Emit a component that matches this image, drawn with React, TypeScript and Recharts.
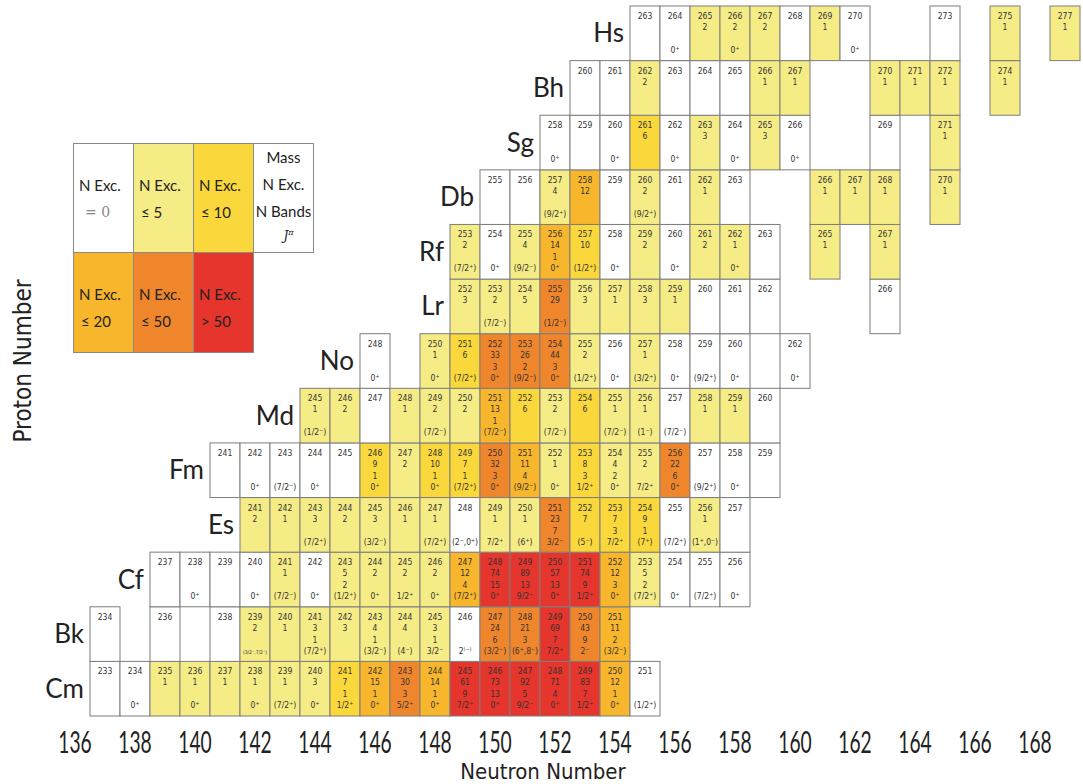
import { ScatterChart, Scatter, XAxis, YAxis } from 'recharts'

// [mass, N excited states, N bands, J^pi]
type Cell = [number, number, number, string]

const CM: Cell[] = [
  [233, 0, 0, ''], [234, 0, 0, '0⁺'], [235, 1, 0, ''], [236, 1, 0, '0⁺'], [237, 1, 0, ''],
  [238, 1, 0, '0⁺'], [239, 1, 0, '(7/2⁺)'], [240, 3, 0, '0⁺'], [241, 7, 1, '1/2⁺'], [242, 15, 1, '0⁺'],
  [243, 30, 3, '5/2⁺'], [244, 14, 1, '0⁺'], [245, 61, 9, '7/2⁺'], [246, 73, 13, '0⁺'], [247, 92, 5, '9/2⁻'],
  [248, 71, 4, '0⁺'], [249, 83, 7, '1/2⁺'], [250, 12, 1, '0⁺'], [251, 0, 0, '(1/2⁺)'],
]
const BK: Cell[] = [
  [234, 0, 0, ''], [236, 0, 0, ''], [238, 0, 0, ''], [239, 2, 0, '(3/2⁻,7/2⁺)'], [240, 1, 0, ''],
  [241, 3, 1, '(7/2⁺)'], [242, 3, 0, ''], [243, 4, 1, '(3/2⁻)'], [244, 4, 0, '(4⁻)'], [245, 3, 1, '3/2⁻'],
  [246, 0, 0, '2⁽⁻⁾'], [247, 24, 6, '(3/2⁻)'], [248, 21, 3, '(6⁺,8⁻)'], [249, 69, 7, '7/2⁺'], [250, 43, 9, '2⁻'],
  [251, 11, 2, '(3/2⁻)'],
]
const CF: Cell[] = [
  [237, 0, 0, ''], [238, 0, 0, '0⁺'], [239, 0, 0, ''], [240, 0, 0, '0⁺'], [241, 1, 0, '(7/2⁻)'],
  [242, 0, 0, '0⁺'], [243, 5, 2, '(1/2⁺)'], [244, 2, 0, '0⁺'], [245, 2, 0, '1/2⁺'], [246, 2, 0, '0⁺'],
  [247, 12, 4, '(7/2⁺)'], [248, 74, 15, '0⁺'], [249, 89, 13, '9/2⁻'], [250, 57, 13, '0⁺'], [251, 74, 9, '1/2⁺'],
  [252, 12, 3, '0⁺'], [253, 5, 2, '(7/2⁺)'], [254, 0, 0, '0⁺'], [255, 0, 0, '(7/2⁺)'], [256, 0, 0, '0⁺'],
]
const ES: Cell[] = [
  [241, 2, 0, ''], [242, 1, 0, ''], [243, 3, 0, '(7/2⁺)'], [244, 2, 0, ''], [245, 3, 0, '(3/2⁻)'],
  [246, 1, 0, ''], [247, 1, 0, '(7/2⁺)'], [248, 0, 0, '(2⁻,0⁺)'], [249, 1, 0, '7/2⁺'], [250, 1, 0, '(6⁺)'],
  [251, 23, 7, '3/2⁻'], [252, 7, 0, '(5⁻)'], [253, 7, 3, '7/2⁺'], [254, 9, 1, '(7⁺)'], [255, 0, 0, '(7/2⁺)'],
  [256, 1, 0, '(1⁺,0⁻)'], [257, 0, 0, ''],
]
const FM: Cell[] = [
  [241, 0, 0, ''], [242, 0, 0, '0⁺'], [243, 0, 0, '(7/2⁻)'], [244, 0, 0, '0⁺'], [245, 0, 0, ''],
  [246, 9, 1, '0⁺'], [247, 2, 0, ''], [248, 10, 1, '0⁺'], [249, 7, 1, '(7/2⁺)'], [250, 32, 3, '0⁺'],
  [251, 11, 4, '(9/2⁻)'], [252, 1, 0, '0⁺'], [253, 8, 3, '1/2⁺'], [254, 4, 2, '0⁺'], [255, 2, 0, '7/2⁺'],
  [256, 22, 6, '0⁺'], [257, 0, 0, '(9/2⁺)'], [258, 0, 0, '0⁺'], [259, 0, 0, ''],
]
const MD: Cell[] = [
  [245, 1, 0, '(1/2⁻)'], [246, 2, 0, ''], [247, 0, 0, ''], [248, 1, 0, ''], [249, 2, 0, '(7/2⁻)'],
  [250, 2, 0, ''], [251, 13, 1, '(7/2⁻)'], [252, 6, 0, ''], [253, 2, 0, '(7/2⁻)'], [254, 6, 0, ''],
  [255, 1, 0, '(7/2⁻)'], [256, 1, 0, '(1⁻)'], [257, 0, 0, '(7/2⁻)'], [258, 1, 0, ''], [259, 1, 0, ''],
  [260, 0, 0, ''],
]
const NO: Cell[] = [
  [248, 0, 0, '0⁺'], [250, 1, 0, '0⁺'], [251, 6, 0, '(7/2⁺)'], [252, 33, 3, '0⁺'], [253, 26, 2, '(9/2⁻)'],
  [254, 44, 3, '0⁺'], [255, 2, 0, '(1/2⁺)'], [256, 0, 0, '0⁺'], [257, 1, 0, '(3/2⁺)'], [258, 0, 0, '0⁺'],
  [259, 0, 0, '(9/2⁺)'], [260, 0, 0, '0⁺'], [262, 0, 0, '0⁺'],
]
const LR: Cell[] = [
  [252, 3, 0, ''], [253, 2, 0, '(7/2⁻)'], [254, 5, 0, ''], [255, 29, 0, '(1/2⁻)'], [256, 3, 0, ''],
  [257, 1, 0, ''], [258, 3, 0, ''], [259, 1, 0, ''], [260, 0, 0, ''], [261, 0, 0, ''], [262, 0, 0, ''],
  [266, 0, 0, ''],
]
const RF: Cell[] = [
  [253, 2, 0, '(7/2⁺)'], [254, 0, 0, '0⁺'], [255, 4, 0, '(9/2⁻)'], [256, 14, 1, '0⁺'], [257, 10, 0, '(1/2⁺)'],
  [258, 0, 0, '0⁺'], [259, 2, 0, ''], [260, 0, 0, '0⁺'], [261, 2, 0, ''], [262, 1, 0, '0⁺'], [263, 0, 0, ''],
  [265, 1, 0, ''], [267, 1, 0, ''],
]
const DB: Cell[] = [
  [255, 0, 0, ''], [256, 0, 0, ''], [257, 4, 0, '(9/2⁺)'], [258, 12, 0, ''], [259, 0, 0, ''],
  [260, 2, 0, '(9/2⁺)'], [261, 0, 0, ''], [262, 1, 0, ''], [263, 0, 0, ''], [266, 1, 0, ''],
  [267, 1, 0, ''], [268, 1, 0, ''], [270, 1, 0, ''],
]
const SG: Cell[] = [
  [258, 0, 0, '0⁺'], [259, 0, 0, ''], [260, 0, 0, '0⁺'], [261, 6, 0, ''], [262, 0, 0, '0⁺'],
  [263, 3, 0, ''], [264, 0, 0, '0⁺'], [265, 3, 0, ''], [266, 0, 0, '0⁺'], [269, 0, 0, ''], [271, 1, 0, ''],
]
const BH: Cell[] = [
  [260, 0, 0, ''], [261, 0, 0, ''], [262, 2, 0, ''], [263, 0, 0, ''], [264, 0, 0, ''], [265, 0, 0, ''],
  [266, 1, 0, ''], [267, 1, 0, ''], [270, 1, 0, ''], [271, 1, 0, ''], [272, 1, 0, ''], [274, 1, 0, ''],
]
const HS: Cell[] = [
  [263, 0, 0, ''], [264, 0, 0, '0⁺'], [265, 2, 0, ''], [266, 2, 0, '0⁺'], [267, 2, 0, ''],
  [268, 0, 0, ''], [269, 1, 0, ''], [270, 0, 0, '0⁺'], [273, 0, 0, ''], [275, 1, 0, ''], [277, 1, 0, ''],
]

const ELEMENTS: [string, number, Cell[]][] = [
  ['Cm', 96, CM], ['Bk', 97, BK], ['Cf', 98, CF], ['Es', 99, ES], ['Fm', 100, FM],
  ['Md', 101, MD], ['No', 102, NO], ['Lr', 103, LR], ['Rf', 104, RF], ['Db', 105, DB],
  ['Sg', 106, SG], ['Bh', 107, BH], ['Hs', 108, HS],
]

const N_TICKS = [136, 138, 140, 142, 144, 146, 148, 150, 152, 154, 156, 158, 160, 162, 164, 166, 168]

// colour bins by number of excited states
const BIN_COLORS = ['#ffffff', '#f6ec86', '#fad83c', '#f8b62c', '#f0862c', '#e6352c']
function binColor(exc: number) {
  if (exc === 0) return BIN_COLORS[0]
  if (exc <= 5) return BIN_COLORS[1]
  if (exc <= 10) return BIN_COLORS[2]
  if (exc <= 20) return BIN_COLORS[3]
  if (exc <= 50) return BIN_COLORS[4]
  return BIN_COLORS[5]
}

const W = 1083
const H = 784
const MARGIN = { top: 6, right: 3, bottom: 0, left: 0 }
const Y_AXIS_W = 60
const X_AXIS_H = 68
const X_DOMAIN: [number, number] = [135.5, 169.5]
const Y_DOMAIN: [number, number] = [95.5, 108.5]
const PLOT_W = W - MARGIN.left - MARGIN.right - Y_AXIS_W
const PLOT_H = H - MARGIN.top - MARGIN.bottom - X_AXIS_H
const CELL_W = PLOT_W / (X_DOMAIN[1] - X_DOMAIN[0])
const CELL_H = PLOT_H / (Y_DOMAIN[1] - Y_DOMAIN[0])

const cellData = ELEMENTS.flatMap(([sym, z, cells]) =>
  cells.map(([mass, exc, bands, jp]) => ({ n: mass - z, z, sym, mass, exc, bands, jp }))
)
const labelData = ELEMENTS.map(([sym, z, cells]) => ({ n: cells[0][0] - z - 0.5, z, sym }))

const NARROW = "'DejaVu Sans Condensed', 'Liberation Sans', sans-serif"
const SANS = "Lato, 'DejaVu Sans', sans-serif"

function CellShape(props: any) {
  const { cx, cy, payload } = props
  const x0 = cx - CELL_W / 2
  const y0 = cy - CELL_H / 2
  const t = { fontFamily: NARROW, fontSize: 8.5, fill: '#333', textAnchor: 'middle' as const }
  const jpSize = payload.jp.length > 8 ? 5 : 8.5
  return (
    <g>
      <rect x={x0} y={y0} width={CELL_W} height={CELL_H} fill={binColor(payload.exc)} stroke="#7d7d7d" strokeWidth={1} />
      <text {...t} x={cx} y={y0 + 13}>{payload.mass}</text>
      {payload.exc > 0 && <text {...t} x={cx} y={y0 + 24}>{payload.exc}</text>}
      {payload.bands > 0 && <text {...t} x={cx} y={y0 + 36}>{payload.bands}</text>}
      {payload.jp && <text {...t} fontSize={jpSize} x={cx} y={y0 + 47}>{payload.jp}</text>}
    </g>
  )
}

function LabelShape(props: any) {
  const { cx, cy, payload } = props
  return (
    <text x={cx - 6} y={cy} dy="0.35em" textAnchor="end" fontFamily={SANS} fontSize={26} fill="#222">
      {payload.sym}
    </text>
  )
}

// squeezed tick labels, the original uses a condensed sans
function NarrowTick(props: any) {
  const { x, y, payload } = props
  return (
    <g transform={`translate(${x},${y})`}>
      <text transform="scale(0.62,1)" textAnchor="middle" dy="0.71em" fontSize={31} fill="#222" fontFamily={SANS}>
        {payload.value}
      </text>
    </g>
  )
}

const LEGEND_TOP = [
  { bg: BIN_COLORS[0], a: 'N Exc.', b: '= 0', mathB: true },
  { bg: BIN_COLORS[1], a: 'N Exc.', b: '≤ 5' },
  { bg: BIN_COLORS[2], a: 'N Exc.', b: '≤ 10' },
]
const LEGEND_BOTTOM = [
  { bg: BIN_COLORS[3], a: 'N Exc.', b: '≤ 20' },
  { bg: BIN_COLORS[4], a: 'N Exc.', b: '≤ 50' },
  { bg: BIN_COLORS[5], a: 'N Exc.', b: '> 50' },
]

function Legend() {
  const cellW = 61
  const box = (bg: string, h: number): React.CSSProperties => ({
    width: cellW, height: h, background: bg, boxSizing: 'border-box',
    border: '1px solid #8a8a8a', marginLeft: -1, marginTop: -1,
    paddingTop: 28, paddingLeft: 5, lineHeight: '27px', fontSize: 15, color: '#222',
  })
  return (
    <div style={{ position: 'absolute', left: 74, top: 144, fontFamily: SANS }}>
      <div style={{ display: 'flex' }}>
        {LEGEND_TOP.map((c, i) => (
          <div key={i} style={box(c.bg, 110)}>
            <div>{c.a}</div>
            <div style={c.mathB ? { fontFamily: 'DejaVu Serif, serif', color: '#888', paddingLeft: 6, fontSize: 14 } : { paddingLeft: 2 }}>{c.b}</div>
          </div>
        ))}
        <div style={{ ...box('#ffffff', 110), paddingTop: 0, paddingLeft: 0, textAlign: 'center', lineHeight: '27px' }}>
          <div>Mass</div>
          <div>N Exc.</div>
          <div>N Bands</div>
          <div style={{ fontFamily: 'DejaVu Serif, serif', fontStyle: 'italic', fontSize: 12, lineHeight: '16px', paddingLeft: 10 }}>
            J<sup style={{ fontSize: 8 }}>π</sup>
          </div>
        </div>
      </div>
      <div style={{ display: 'flex' }}>
        {LEGEND_BOTTOM.map((c, i) => (
          <div key={i} style={box(c.bg, 101)}>
            <div>{c.a}</div>
            <div style={{ paddingLeft: 2 }}>{c.b}</div>
          </div>
        ))}
      </div>
    </div>
  )
}

export default function App() {
  return (
    <div style={{ position: 'absolute', left: 0, top: 0, width: W, height: H, background: '#fff' }}>
      <ScatterChart width={W} height={H} margin={MARGIN}>
        <XAxis
          type="number"
          dataKey="n"
          domain={X_DOMAIN}
          ticks={N_TICKS}
          interval={0}
          height={X_AXIS_H}
          axisLine={false}
          tickLine={false}
          tickMargin={9}
          tick={NarrowTick}
          label={{ value: 'Neutron Number', position: 'insideBottom', offset: 5, dx: -27, style: { fontSize: 22, fill: '#222', fontFamily: NARROW } }}
        />
        <YAxis
          type="number"
          dataKey="z"
          domain={Y_DOMAIN}
          width={Y_AXIS_W}
          axisLine={false}
          tickLine={false}
          tick={false}
          label={{ value: 'Proton Number', angle: -90, position: 'center', dx: -8, style: { fontSize: 24, fill: '#222', fontFamily: NARROW } }}
        />
        <Scatter data={cellData} shape={CellShape} isAnimationActive={false} />
        <Scatter data={labelData} shape={LabelShape} isAnimationActive={false} />
      </ScatterChart>
      <Legend />
    </div>
  )
}
